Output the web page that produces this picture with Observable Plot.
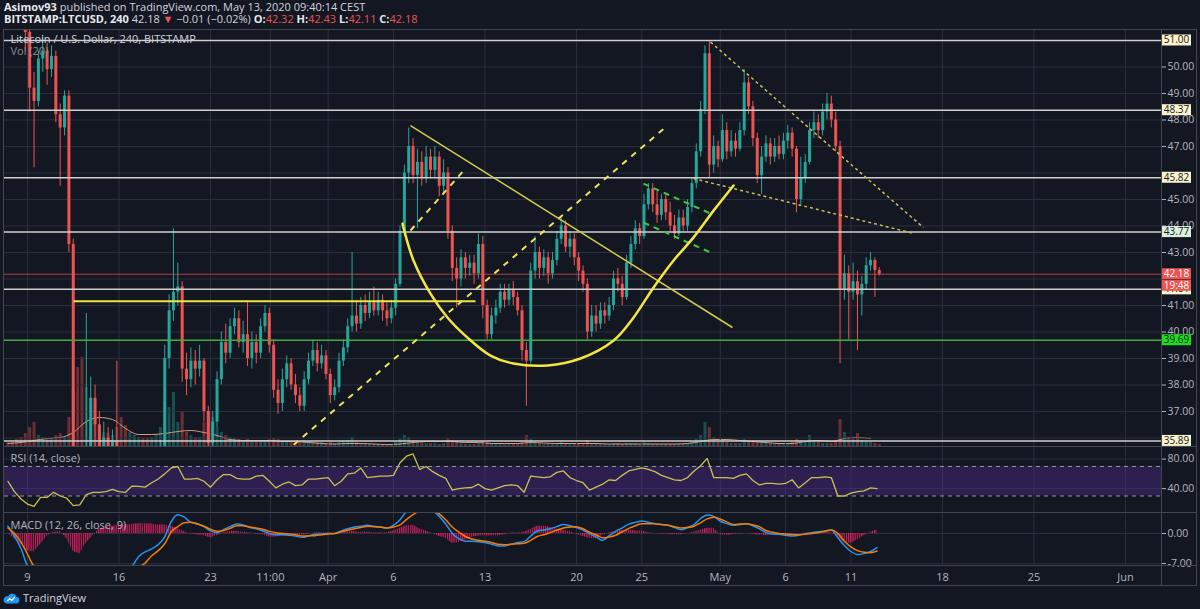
<!DOCTYPE html>
<html><head><meta charset="utf-8">
<script src="https://cdn.jsdelivr.net/npm/d3@7"></script>
<script src="https://cdn.jsdelivr.net/npm/@observablehq/plot@0.6"></script>
<style>
html,body{margin:0;padding:0;background:#131722;}
body{width:1200px;height:609px;overflow:hidden;position:relative;font-family:"Open Sans","Noto Sans",sans-serif;color:#d1d4dc;}
#header{position:absolute;left:4px;top:1px;font-size:11px;line-height:12px;white-space:nowrap;}
#header b{font-weight:700;color:#e6e8ee}
.r{color:#ef5350}
.pane{position:absolute;left:0}
.hl{position:absolute;height:1px;background:#434651;left:3px;width:1194px;z-index:5}
.vl{position:absolute;width:1px;background:#434651;top:29px;height:556px;z-index:5}
#footer{position:absolute;left:3px;top:590px;font-size:11px;display:flex;align-items:center;gap:3px;color:#d1d4dc}
#dbg{position:absolute;left:300px;top:592px;color:red;font-size:11px}
</style></head>
<body>
<svg width="0" height="0" style="position:absolute">
  <defs>
    <pattern id="histHatch" patternUnits="userSpaceOnUse" width="2.18" height="10">
      <rect x="0" y="0" width="1.2" height="10" fill="#e91e63" fill-opacity="0.9"></rect>
    </pattern>
  </defs>
</svg>
<div id="header">
  <div><b>Asimov93</b> published on TradingView.com, May 13, 2020 09:40:14 CEST</div>
  <div id="ohlc"></div>
</div>
<div id="vol" class="pane" style="top:327px"></div>
<div id="price" class="pane" style="top:30px"></div>
<div id="rsi" class="pane" style="top:447px"></div>
<div id="macd" class="pane" style="top:513px"></div>
<div class="hl" style="top:29px"></div>
<div class="hl" style="top:446px"></div>
<div class="hl" style="top:512px"></div>
<div class="hl" style="top:565px"></div>
<div class="hl" style="top:585px"></div>
<div class="vl" style="left:3px"></div>
<div class="vl" style="left:1161px"></div>
<div class="vl" style="left:1196px"></div>
<div id="footer">
  <svg width="17" height="12" viewBox="0 0 17 12"><path d="M3.5 11.5h9.5a3.2 3.2 0 0 0 0.4-6.4a4.3 4.3 0 0 0-8.2-0.8a3.6 3.6 0 0 0-1.7 7.2z" fill="#2196f3"/><path d="M4.2 9.2l2.6-2.6 2 1.8 3-3.2" stroke="#ffffff" stroke-width="1.2" fill="none"/></svg>
  <span>TradingView</span>
</div>
<div id="dbg"></div>
<script>
// ---------------- DATA ----------------
// 8-hour candles starting 2020-03-07 08:00 UTC; open = previous close
const firstOpen = 61.0;
const close = [
 60.2,58.8,57.0,54.2,51.3,            // Mar 7 08/16, Mar 8 00/08/16
 49.2,48.7,50.3, 50.6,49.9,50.4, 48.2,47.7,48.9, 43.3,35.0,32.5, 28.0,34.5,37.5, // Mar 9-13
 36.5,35.3,36.0, 35.5,35.9,35.2, 33.0,31.5,32.5, 33.5,34.0,33.6, 33.2,34.0,34.8, // Mar 14-18
 35.4,39.0,40.8, 41.5,41.7,38.6, 38.2,38.9,38.6, 38.9,37.0,35.8, 36.6,38.2,39.6, // Mar 19-23
 39.2,40.2,40.5, 39.6,39.9,39.0, 39.6,39.2,40.2, 40.7,39.5,37.8, 37.3,38.2,38.8, // Mar 24-28
 38.0,37.6,37.2, 38.2,38.9,39.3, 38.8,39.1,38.4,                                  // Mar 29-31
 37.6,37.9,38.9, 39.4,40.2,40.6, 40.3,41.0,40.7, 41.1,40.8,41.2, 40.8,40.5,40.9, // Apr 1-5
 41.8,43.8,46.0, 47.0,45.9,46.4, 45.8,46.6,46.1, 46.6,45.5,46.0, 43.8,42.4,42.0, // Apr 6-10
 42.8,42.4,42.6, 42.2,43.3,41.0, 39.9,40.6,40.9, 41.5,41.2,41.6, 41.3,40.8,39.3, // Apr 11-15
 38.9,42.3,43.0, 42.4,42.8,42.2, 42.7,43.5,44.0, 43.2,43.5,42.8, 42.3,41.8,40.0, // Apr 16-20
 40.6,40.3,40.8, 40.6,41.0,42.0, 41.8,41.3,42.6, 43.3,43.9,43.6, 44.8,45.4,44.8, // Apr 21-25
 44.4,45.0,44.5, 44.0,43.7,44.3, 44.0,44.7,45.6, 46.8,48.4,50.5, 46.3,47.0,46.5, // Apr 26-30
 47.6,46.8,47.2, 46.9,47.6,49.4, 48.5,47.3,45.9, 46.6,47.1,46.6, 47.0,46.7,47.2, // May 1-5
 47.5,46.9,45.0, 45.8,46.4,47.6, 47.9,47.6,48.3, 48.6,48.0,47.0, 41.6,42.2,41.5, // May 6-10
 41.9,41.4,41.8, 42.5,42.7,42.32,                                                 // May 11-12
 42.18                                                                            // May 13 00
];
const high = [
 61.5,60.6,59.0,57.2,54.5,
 51.6,49.8,50.6, 51.2,50.9,50.8, 50.6,48.6,49.1, 49.1,43.5,35.5, 33.0,40.7,38.3,
 38.0,37.0,36.6, 36.4,36.3,38.9, 35.6,33.5,33.2, 34.2,34.8,34.5, 34.0,34.5,35.3,
 35.9,39.5,41.4, 43.9,42.6,41.9, 39.2,39.4,39.3, 39.5,39.0,37.2, 37.0,38.5,40.0,
 40.3,40.5,40.9, 40.8,40.4,41.1, 40.0,39.9,40.5, 41.0,40.9,39.7, 38.2,38.6,39.1,
 39.0,38.4,37.9, 38.5,39.2,39.7, 39.6,39.5,39.3,
 38.6,38.2,39.2, 39.7,40.5,43.0, 41.2,41.3,41.4, 41.5,41.7,41.5, 41.4,41.1,41.2,
 42.0,44.0,46.3, 47.7,47.3,46.9, 46.8,47.0,46.9, 47.0,46.8,46.5, 46.2,44.0,42.8,
 43.1,43.0,42.9, 42.9,43.7,43.6, 41.2,40.9,41.2, 41.8,41.8,41.8, 41.9,41.5,41.0,
 39.6,42.6,43.6, 43.2,43.1,43.0, 43.0,43.8,44.3, 44.2,43.8,43.7, 43.0,42.5,42.0,
 41.0,41.0,41.1, 41.1,41.3,42.3, 42.4,42.1,42.9, 43.6,44.2,44.1, 45.2,45.6,45.6,
 45.3,45.2,45.2, 44.9,44.4,44.6, 44.6,45.0,45.8, 47.1,48.7,50.8, 51.0,47.4,47.2,
 48.2,47.9,47.6, 47.5,47.9,49.9, 49.6,48.7,47.5, 47.0,47.4,47.3, 47.3,47.4,47.5,
 47.8,47.7,47.0, 46.6,46.7,47.9, 48.3,48.2,48.6, 49.0,48.9,48.3, 47.2,42.9,42.5,
 42.6,42.3,42.1, 42.8,43.0,42.8,
 42.43
];
const low = [
 59.6,58.3,56.5,53.8,50.6,
 48.3,46.2,48.5, 49.8,49.3,49.6, 47.9,45.5,47.4, 43.0,34.0,31.0, 23.5,27.0,34.0,
 35.5,34.5,34.8, 34.5,34.8,34.5, 32.5,30.5,31.0, 32.0,33.0,33.2, 32.5,32.8,33.8,
 34.5,35.2,38.6, 40.4,41.0,38.1, 37.6,37.9,38.0, 38.3,36.6,35.0, 35.2,36.4,38.0,
 38.8,39.0,39.9, 39.4,39.2,38.7, 38.6,38.8,39.0, 40.0,39.2,37.5, 36.9,37.0,37.9,
 37.8,37.3,37.0, 37.0,38.0,38.7, 38.5,38.6,38.2,
 37.3,37.4,37.7, 38.7,39.2,40.0, 40.0,40.1,40.4, 40.5,40.6,40.6, 40.4,40.2,40.3,
 40.6,41.7,43.6, 45.6,45.6,43.9, 45.5,45.6,45.8, 45.8,45.1,45.2, 43.5,41.9,40.9,
 41.7,42.0,42.1, 41.8,42.0,40.5, 39.7,39.7,40.3, 40.7,40.9,41.0, 41.0,40.6,38.9,
 37.2,38.8,42.0, 42.0,42.1,41.8, 42.0,42.5,43.3, 43.0,42.8,42.5, 41.9,41.5,39.7,
 39.8,40.0,40.1, 40.3,40.4,40.8, 41.5,41.0,41.2, 42.4,43.1,43.3, 43.5,44.6,44.5,
 44.1,44.2,44.2, 43.8,43.5,43.6, 43.8,43.8,44.5, 45.4,46.6,48.2, 45.8,46.0,46.2,
 46.4,46.5,46.6, 46.6,46.8,47.4, 48.2,47.0,45.6, 45.2,46.4,46.3, 46.4,46.5,46.5,
 46.9,46.6,44.5, 44.8,45.6,46.3, 47.3,47.3,47.4, 48.0,47.7,46.8, 38.8,41.2,39.7,
 41.2,39.3,40.6, 41.6,42.3,41.3,
 42.11
];
// volume per 8h candle (thousand LTC)
const volume = [
 20,24,32,40,56,
 80,100,48, 40,32,36, 48,56,40, 120,240,320, 360,240,180,
 100,72,60, 56,48,80, 120,88,60, 48,40,36, 36,40,48,
 80,180,160, 220,100,140, 60,48,40, 40,100,140, 120,80,60,
 48,40,36, 32,28,32, 24,24,28, 24,32,36, 32,24,20,
 20,20,24, 28,24,20, 20,20,16,
 20,16,20, 24,28,40, 20,16,16, 12,12,12, 12,8,12,
 20,32,48, 40,28,24, 20,16,16, 16,12,16, 36,28,24,
 16,12,12, 12,16,24, 20,16,12, 12,12,12, 12,12,20,
 48,32,20, 16,12,12, 12,16,20, 16,12,12, 12,16,28,
 16,12,12, 12,12,16, 16,12,16, 16,16,12, 20,16,12,
 12,12,12, 12,12,12, 12,12,20, 32,48,100, 80,40,24,
 28,20,16, 16,16,32, 24,28,24, 20,16,16, 12,12,12,
 16,20,32, 28,24,48, 24,20,16, 16,16,24, 112,60,40,
 32,56,28, 20,20,16,
 12
];
// Vol (20) moving average, daily samples from 2020-03-07 12:00 UTC
const volumeMA = [16,20,28,36,40,60,104,120,112,76, 52,52,56,64,68,60,48,32,28,28,
 28,24,24,20,16,14,16,16,14,12, 14,20,24,24,24,20,20,16,16,16,
 20,18,16,16,16,16,14,14,14,14, 14,14,16,24,32,32,28,24,20,16, 16,24,28,24,36,40,36];
// indicators, 12h samples from 2020-03-07 12:00 UTC
const rsi = [50,36,26,19,16,28,28,35,30,27, 17,18,32,35,35,36,39,36,35,43.5,
 43,42,48,53,60,68,70,53,53,54, 50,42,52,59,59,54,53,53,57,58,
 50,41,46,49,44,45,53,53,54,55, 44,50,60,61,68,55,56,57,57,58,
 75,84,87,66,70,63,58,54,38,40, 41,41.5,46,40,38,41,44,45,44,35,
 57,56,55,56,62,64,55,51,48,38, 42,46,52,51,58,64,66,68,66,63,
 58,55,52,51,55,64,71,81,55,55, 55,54,58,60,51,45,47,47,46,47,
 52,41,48,55,55,56,55,30,30,34, 36,37,41,40];
const macd = [1.7,-0.6,-3.5,-7.6,-9.0,-9.5,-9.4,-9.0,-8.8,-9.5,
 -12.0,-13.5,-14.0,-13.6,-12.8,-12.0,-11.0,-10.0,-9.0,-7.6,
 -5.4,-4.3,-3.6,-2.6,-0.8,2.8,4.4,3.8,2.6,2.3, 1.6,0.6,0.2,0.9,1.6,2.2,2.0,1.4,1.1,0.6,
 0.0,-0.3,-0.3,-0.4,-0.6,-0.9,-0.6,-0.2,-0.1,0.0, 0.0,0.6,1.1,1.5,1.7,1.9,1.7,1.5,1.3,1.9,
 3.2,5.2,6.3,6.5,6.0,5.3,4.0,2.2,0.0,-1.2, -1.8,-1.8,-1.9,-2.1,-2.5,-2.9,-2.9,-2.5,-2.1,-1.9,
 -0.6,0.6,0.8,1.1,1.6,2.1,1.8,1.4,0.8,0.0, -0.8,-1.6,-0.5,0.5,1.3,2.2,2.6,2.9,2.6,2.3,
 2.1,1.9,1.4,0.9,1.4,2.1,3.5,4.3,4.0,2.9, 2.3,1.9,2.1,2.3,1.8,1.1,0.2,-0.1,-0.2,-0.4,
 -0.6,-0.4,-0.1,0.2,0.4,0.6,0.8,-1.0,-2.8,-4.2, -4.9,-4.7,-4.2,-3.3];
const signal = [1.3,0.0,-2.0,-4.8,-7.6,-8.2,-8.8,-9.0,-9.0,-9.1,
 -10.0,-11.2,-12.2,-12.8,-13.0,-12.9,-12.5,-12.0,-11.0,-9.8,
 -8.0,-6.9,-5.2,-4.0,-2.4,0.4,1.6,2.5,2.6,2.2, 1.7,1.0,0.5,0.7,1.2,1.8,1.8,1.5,1.3,1.0,
 0.5,0.2,0.0,-0.1,-0.3,-0.6,-0.55,-0.5,-0.3,-0.1, 0.0,0.4,0.8,1.1,1.4,1.7,1.6,1.5,1.3,1.5,
 2.0,3.3,4.4,5.3,5.6,5.3,4.6,3.2,1.5,0.3, -0.7,-1.3,-1.6,-1.8,-2.1,-2.5,-2.6,-2.5,-2.4,-2.3,
 -1.6,-0.7,-0.3,0.2,0.8,1.3,1.5,1.6,1.1,0.3, -0.3,-1.0,-0.8,-0.4,0.4,1.2,1.8,2.3,2.3,2.3,
 2.1,1.9,1.6,1.3,1.4,1.7,2.5,3.4,3.8,3.4, 2.7,2.1,2.2,2.3,2.0,1.6,0.7,0.3,0.0,-0.1,
 -0.3,-0.3,-0.2,0.0,0.2,0.5,0.8,0.0,-1.8,-3.1, -4.0,-4.4,-4.5,-4.1];
const hist = [0.2,-1.2,-2.6,-4.0,-4.3,-2.5,-0.6,0.3,0.5,-1.2,
 -4.2,-4.8,-2.2,-0.5,1.1,1.4,1.7,2.0,2.0,2.1, 2.3,2.3,2.2,2.0,2.0,1.7,1.1,0.4,-0.2,-0.3,
 -0.5,-1.0,-0.5,0.2,0.5,0.5,0.3,0.1,-0.1,-0.3, -0.8,-0.9,-0.5,-0.5,-0.5,-0.4,-0.2,0.2,0.2,0.1,
 0.0,0.3,0.5,0.4,0.3,0.3,0.2,0.2,0.2,0.6, 1.2,1.8,1.9,1.1,0.5,0.0,-0.7,-1.1,-2.3,-2.1,
 -1.5,-0.9,-0.6,-0.5,-0.5,-0.5,-0.3,0.1,0.2,0.3, 1.0,1.7,1.7,1.4,1.0,0.8,0.4,-0.2,-0.7,-1.1,
 -1.2,-0.4,0.2,0.5,0.7,0.8,0.6,0.5,0.2,0.0, -0.1,-0.2,-0.3,-0.3,0.0,0.3,0.8,1.2,1.2,-0.3,
 -0.4,-0.3,-0.1,0.0,-0.2,-0.4,-0.5,-0.4,-0.3,-0.3, -0.3,-0.1,0.1,0.2,0.3,0.3,0.2,-0.8,-2.2,-2.3,
 -1.5,-0.5,0.3,0.8];

// horizontal levels drawn on the chart
const levelLines = [51.00, 48.37, 45.82, 43.77, 41.61, 35.89];
const mintLevels = [43.77];
const supportLevel = [39.69];
const countdown = "19:48";
// drawings (time, price)
const baseLine = [{t1:"2020-03-12T12:30Z", p1:41.16, t2:"2020-04-12T06:40Z", p2:41.16}];
const channelDashed = [
  {t1:"2020-03-28T15:55Z", p1:35.45, t2:"2020-04-26T23:10Z", p2:47.79},
  {t1:"2020-04-07T07:15Z", p1:43.83, t2:"2020-04-11T09:00Z", p2:46.09}
];
const trendSolid = [{t1:"2020-04-07T07:15Z", p1:47.79, t2:"2020-05-01T22:30Z", p2:40.17}];
const flagDashed = [
  {t1:"2020-04-25T03:10Z", p1:45.60, t2:"2020-04-30T06:10Z", p2:44.47},
  {t1:"2020-04-25T03:10Z", p1:44.13, t2:"2020-04-30T06:10Z", p2:43.00}
];
const wedgeDotted = [
  {t1:"2020-04-30T06:10Z", p1:50.94, t2:"2020-05-16T13:10Z", p2:43.94},
  {t1:"2020-04-28T23:00Z", p1:45.79, t2:"2020-05-15T19:00Z", p2:43.72}
];
const cupTimes = ["2020-04-06T16:30Z","2020-04-07T12:45Z","2020-04-08T19:55Z","2020-04-10T03:05Z",
 "2020-04-11T15:50Z","2020-04-13T10:05Z","2020-04-15T04:20Z","2020-04-17T19:00Z","2020-04-20T07:25Z",
 "2020-04-22T20:10Z","2020-04-24T08:55Z","2020-04-25T21:35Z","2020-04-27T10:20Z","2020-04-28T23:00Z",
 "2020-04-30T11:45Z","2020-05-02T00:30Z"];
const cupPrices = [44.09,42.70,41.45,40.55,39.79,39.11,38.81,38.74,39.00,39.68,40.55,41.68,42.70,43.57,44.58,45.53];

// axes
const tickDates = ["2020-03-09","2020-03-16","2020-03-23","2020-03-27T14:00Z","2020-04-01","2020-04-06",
 "2020-04-13","2020-04-20","2020-04-25","2020-05-01","2020-05-06","2020-05-11","2020-05-18","2020-05-25","2020-06-01"];
const tickLabels = ["9","16","23","11:00","Apr","6","13","20","25","May","6","11","18","25","Jun"];
const priceGrid = [36,37,38,39,40,41,42,43,44,45,46,47,48,49,50,51];
const priceTicks = [37,38,39,40,41,43,44,45,47,48,49,50];
const rsiTicks = [80, 40];
const rsiBand = [30, 70];
const macdTicks = [0, -7];

// ---------------- BUILD ----------------
const lens = [close.length, high.length, low.length, volume.length, rsi.length, macd.length, signal.length, hist.length];
if (new Set(lens.slice(0,4)).size > 1 || new Set(lens.slice(4)).size > 1) document.getElementById("dbg").textContent = lens.join(",");

const UP = "#26a69a", DN = "#ef5350", GRID = "#2a2f3b", AXIS = "#b2b5be";
const FONT = '"Open Sans","Noto Sans",sans-serif';
const W = 1200, ML = 4, MR = 39;
const HOUR = 3600e3;
const xDomain = [new Date("2020-03-07T05:45Z"), new Date("2020-06-03T18:15Z")];
const candleStart = new Date("2020-03-07T08:00Z");
const candles = close.map((c, i) => {
  const o = i === 0 ? firstOpen : close[i - 1];
  return {t: new Date(+candleStart + (i * 8 + 4) * HOUR), o, c, h: high[i], l: low[i], v: volume[i], col: c >= o ? UP : DN};
});
const indStart = new Date("2020-03-07T12:00Z");
const ind = rsi.map((r, k) => ({t: new Date(+indStart + k * 12 * HOUR), rsi: r, macd: macd[k], signal: signal[k], hist: hist[k]}));
const volMa = volumeMA.map((v, j) => ({t: new Date(+indStart + j * 24 * HOUR), v}));
const ticks = tickDates.map((d, i) => ({t: new Date(d.length === 10 ? d + "T00:00Z" : d), label: tickLabels[i]}));
const tickT = ticks.map(d => d.t);
const cup = cupTimes.map((s, i) => ({t: new Date(s), p: cupPrices[i]}));
const seg = arr => arr.map(d => ({x1: new Date(d.t1), y1: d.p1, x2: new Date(d.t2), y2: d.p2}));
const last = candles[candles.length - 1];

document.getElementById("ohlc").innerHTML =
  `<b>BITSTAMP:LTCUSD, 240</b> ${last.c.toFixed(2)} <span class="r">▼</span> −0.01 (−0.02%) ` +
  `<b>O:</b><span class="r">${last.o.toFixed(2)}</span> <b>H:</b><span class="r">${last.h.toFixed(2)}</span> ` +
  `<b>L:</b><span class="r">${last.l.toFixed(2)}</span> <b>C:</b><span class="r">${last.c.toFixed(2)}</span>`;

const baseStyle = {background: "transparent", color: AXIS, fontSize: "10.5px", fontFamily: FONT};

// Volume overlay (behind candles)
const volPlot = Plot.plot({
  width: W, height: 120, marginLeft: ML, marginRight: MR, marginTop: 0, marginBottom: 0,
  style: baseStyle, color: {type: "identity"},
  x: {domain: xDomain, axis: null}, y: {domain: [0, 480], axis: null},
  marks: [
    Plot.ruleX(candles, {x: "t", y1: 0, y2: "v", stroke: "col", strokeOpacity: 0.4, strokeWidth: 3}),
    Plot.line(volMa, {x: "t", y: "v", stroke: "#d39c77", strokeWidth: 1, curve: "monotone-x"})
  ]
});
document.getElementById("vol").append(volPlot);

// Price pane
const pricePlot = Plot.plot({
  width: W, height: 417, marginLeft: ML, marginRight: MR, marginTop: 0, marginBottom: 0,
  style: baseStyle, color: {type: "identity"},
  x: {domain: xDomain, axis: null},
  y: {domain: [35.642, 51.377], axis: "right", ticks: priceTicks, tickFormat: d => d.toFixed(2), tickSize: 4, tickPadding: 2, label: null},
  marks: [
    Plot.ruleY(priceGrid, {stroke: GRID}),
    Plot.ruleX(tickT, {stroke: GRID}),
    Plot.ruleX(candles, {x: "t", y1: "l", y2: "h", stroke: "col", strokeWidth: 1, clip: true}),
    Plot.ruleX(candles, {x: "t", y1: "o", y2: "c", stroke: "col", strokeWidth: 3, clip: true}),
    Plot.ruleY(levelLines, {stroke: "#cfcfcf", strokeWidth: 1.5}),
    Plot.ruleY(supportLevel, {stroke: "#3fae3f", strokeWidth: 1.5}),
    Plot.ruleY([last.c], {stroke: "#ef5350", strokeWidth: 1, strokeOpacity: 0.7}),
    Plot.link(seg(baseLine), {x1: "x1", y1: "y1", x2: "x2", y2: "y2", stroke: "#f0e442", strokeWidth: 2}),
    Plot.link(seg(channelDashed), {x1: "x1", y1: "y1", x2: "x2", y2: "y2", stroke: "#eee25a", strokeWidth: 2, strokeDasharray: "6,6", clip: true}),
    Plot.link(seg(trendSolid), {x1: "x1", y1: "y1", x2: "x2", y2: "y2", stroke: "#d6ca4c", strokeWidth: 1.5}),
    Plot.link(seg(flagDashed), {x1: "x1", y1: "y1", x2: "x2", y2: "y2", stroke: "#43c443", strokeWidth: 2, strokeDasharray: "6,5"}),
    Plot.link(seg(wedgeDotted), {x1: "x1", y1: "y1", x2: "x2", y2: "y2", stroke: "#cdbb58", strokeWidth: 1.5, strokeDasharray: "3,3"}),
    Plot.line(cup, {x: "t", y: "p", curve: "catmull-rom", stroke: "#f2e640", strokeWidth: 2.5}),
    Plot.text(["Litecoin / U.S. Dollar, 240, BITSTAMP"], {frameAnchor: "top-left", dx: 6, dy: 9, lineAnchor: "middle", textAnchor: "start", fill: "#d1d4dc", fontSize: 11}),
    Plot.text(["Vol (20)"], {frameAnchor: "top-left", dx: 6, dy: 21, lineAnchor: "middle", textAnchor: "start", fill: "#8a8d96", fontSize: 11})
  ]
});
{
  const s = pricePlot.scale("y");
  const y = d3.scaleLinear(s.domain, s.range);
  const g = d3.select(pricePlot).append("g").attr("font-size", 10).attr("font-family", FONT).attr("text-anchor", "middle");
  const tag = (v, text, bg, fg, off = 0) => {
    const yy = y(v) + off;
    g.append("rect").attr("x", W - MR + 1).attr("y", yy - 5.5).attr("width", 29).attr("height", 11).attr("fill", bg);
    g.append("text").attr("x", W - MR + 15.5).attr("y", yy).attr("dy", "0.35em").attr("fill", fg).text(text);
  };
  levelLines.forEach(v => tag(v, v.toFixed(2), mintLevels.includes(v) ? "#dcefdc" : "#fbf3cc", "#131722"));
  supportLevel.forEach(v => tag(v, v.toFixed(2), "#19e019", "#131722"));
  tag(last.c, last.c.toFixed(2), "#ef5350", "#ffffff");
  tag(last.c, countdown, "#ef5350", "#ffffff", 11.5);
}
document.getElementById("price").append(pricePlot);

// RSI pane
const rsiPlot = Plot.plot({
  width: W, height: 66, marginLeft: ML, marginRight: MR, marginTop: 0, marginBottom: 0,
  style: baseStyle,
  x: {domain: xDomain, axis: null},
  y: {domain: [6.27, 95.76], axis: "right", ticks: rsiTicks, tickFormat: d => d.toFixed(2), tickSize: 4, tickPadding: 2, label: null},
  marks: [
    Plot.ruleX(tickT, {stroke: GRID}),
    Plot.ruleY(rsiTicks, {stroke: GRID}),
    Plot.rect([rsiBand], {x1: () => xDomain[0], x2: () => xDomain[1], y1: d => d[0], y2: d => d[1], fill: "#5b2d9e", fillOpacity: 0.38}),
    Plot.ruleY(rsiBand, {stroke: "#9598a1", strokeDasharray: "4,4", strokeWidth: 1}),
    Plot.line(ind, {x: "t", y: "rsi", stroke: "#c9c150", strokeWidth: 1.3, clip: true}),
    Plot.text(["RSI (14, close)"], {frameAnchor: "top-left", dx: 6, dy: 11, lineAnchor: "middle", textAnchor: "start", fill: AXIS, fontSize: 11})
  ]
});
document.getElementById("rsi").append(rsiPlot);

// MACD pane + time axis
const macdPlot = Plot.plot({
  width: W, height: 72, marginLeft: ML, marginRight: MR, marginTop: 0, marginBottom: 20,
  style: baseStyle,
  x: {domain: xDomain, axis: null},
  y: {domain: [-7.467, 4.667], axis: "right", ticks: macdTicks, tickFormat: d => d.toFixed(2), tickSize: 4, tickPadding: 2, label: null},
  marks: [
    Plot.ruleX(tickT, {stroke: GRID}),
    Plot.ruleY(macdTicks, {stroke: GRID}),
    Plot.areaY(ind, {x: "t", y: "hist", fill: "url(#histHatch)", clip: true}),
    Plot.line(ind, {x: "t", y: "macd", stroke: "#2196f3", strokeWidth: 1.5, curve: "monotone-x", clip: true}),
    Plot.line(ind, {x: "t", y: "signal", stroke: "#f57c00", strokeWidth: 1.5, curve: "monotone-x", clip: true}),
    Plot.text(["MACD (12, 26, close, 9)"], {frameAnchor: "top-left", dx: 6, dy: 12, lineAnchor: "middle", textAnchor: "start", fill: AXIS, fontSize: 11}),
    Plot.text(ticks, {x: "t", text: "label", frameAnchor: "bottom", dy: 12, lineAnchor: "middle", fill: AXIS, fontSize: 11})
  ]
});
document.getElementById("macd").append(macdPlot);
</script>
</body></html>
